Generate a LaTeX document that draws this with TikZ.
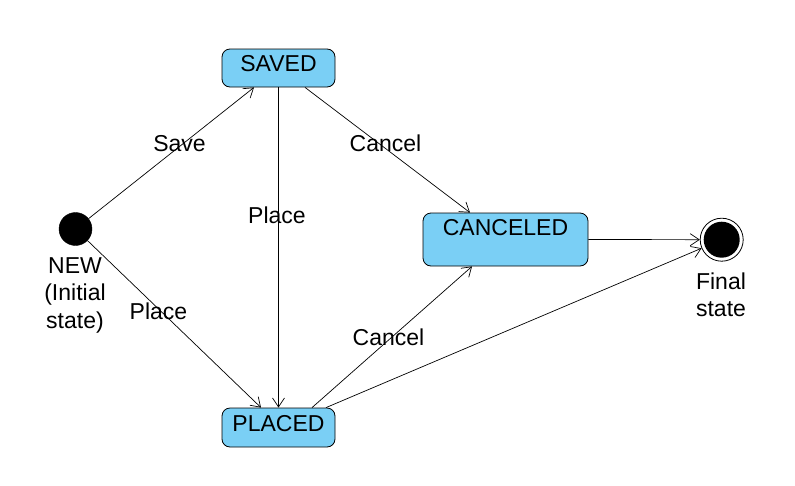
\documentclass[tikz,border=0pt]{standalone}
\usepackage{fontspec}
\setmainfont{Liberation Sans}
\usetikzlibrary{arrows.meta}
\definecolor{stfill}{RGB}{122,207,245}
\tikzset{
  every node/.style={font=\fontsize{23}{27.5}\selectfont},
  statebox/.style={draw=black, fill=stfill, rounded corners=8pt, line width=0.8pt,
    minimum width=113pt, minimum height=38pt, inner sep=2pt},
  lbl/.style={inner sep=0pt, align=center},
  trans/.style={draw=black, line width=0.7pt, -{Straight Barb[length=9pt,width=12pt,line width=0.7pt]}},
}
\begin{document}
\begin{tikzpicture}[x=1pt,y=-1pt]
\useasboundingbox (0,0) rectangle (795,485);
% states
\node[statebox, text height=16pt, text depth=10pt] (saved) at (278.5,68) {SAVED};
\node[statebox, minimum width=165pt, minimum height=53pt, text height=16pt, text depth=24pt] (canceled) at (505.5,239.5) {CANCELED};
\node[statebox, minimum height=39pt, text height=16pt, text depth=8pt] (placed) at (278.5,427.5) {PLACED};
% initial and final
\node[circle, fill=black, draw=black, minimum size=33pt, inner sep=0pt] (init) at (75.5,229) {};
\node[circle, fill=white, draw=black, line width=0.8pt, minimum size=43pt, inner sep=0pt] (final) at (721.7,239.7) {};
\node[circle, fill=black, minimum size=36pt, inner sep=0pt] (finalin) at (final.center) {};
% state captions
\node[lbl] (newlbl) at (75,295) {NEW\\(Initial\\state)};
\node[lbl] (finlbl) at (721,295) {Final\\state};
% transitions
\draw[trans] (init) -- ([xshift=-24.5pt]saved.south);
\draw[trans] (init) -- ([xshift=-17.5pt]placed.north);
\draw[trans] (saved.south) -- (placed.north);
\draw[trans] ([xshift=26.5pt]saved.south) -- ([xshift=-35.5pt]canceled.north);
\draw[trans] ([xshift=33.5pt]placed.north) -- ([xshift=-33.5pt]canceled.south);
\draw[trans] ([xshift=47.5pt]placed.north) -- (final);
\draw[trans] (canceled.east) -- (final);
% transition labels
\node[lbl] (lsave) at (179.5,143.5) {Save};
\node[lbl] (lcancel1) at (385.5,143.5) {Cancel};
\node[lbl] (lplace1) at (277,215.5) {Place};
\node[lbl] (lplace2) at (158.5,311) {Place};
\node[lbl] (lcancel2) at (388.5,337.5) {Cancel};
\end{tikzpicture}
\end{document}
